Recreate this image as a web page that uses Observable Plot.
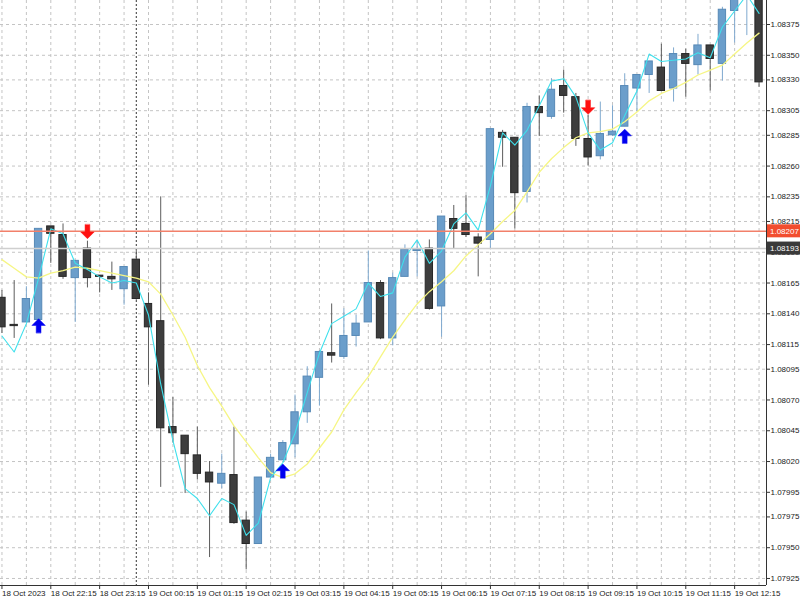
<!DOCTYPE html>
<html><head><meta charset="utf-8">
<script src="https://cdn.jsdelivr.net/npm/d3@7"></script>
<script src="https://cdn.jsdelivr.net/npm/@observablehq/plot@0.6"></script>
<style>
html,body{margin:0;padding:0;background:#fff;}
#chart{width:800px;height:600px;overflow:hidden;}
svg{display:block;}
</style></head><body><div id="chart"></div>
<script>
// 15-minute candles, index 0 = 18 Oct 21:15
const opens  = [1.08153,1.08131,1.08133,1.08135,1.08211,1.08204,1.08169,1.08193,1.08171,1.08170,1.08160,1.08184,1.08148,1.08134,1.08048,1.08041,1.08025,1.08011,1.08002,1.08009,1.07972,1.07953,1.08007,1.08021,1.08034,1.08060,1.08088,1.08108,1.08105,1.08122,1.08133,1.08165,1.08120,1.08170,1.08191,1.08193,1.08146,1.08217,1.08213,1.08202,1.08200,1.08287,1.08283,1.08239,1.08308,1.08300,1.08325,1.08316,1.08282,1.08268,1.08285,1.08292,1.08323,1.08334,1.08340,1.08323,1.08351,1.08342,1.08358,1.08343,1.08386,1.08400,1.08410];
const highs  = [1.08159,1.08167,1.08162,1.08209,1.08211,1.08213,1.08183,1.08199,1.08171,1.08182,1.08178,1.08192,1.08157,1.08235,1.08072,1.08041,1.08048,1.08020,1.08026,1.08048,1.07979,1.08007,1.08026,1.08037,1.08074,1.08097,1.08110,1.08148,1.08144,1.08139,1.08191,1.08167,1.08173,1.08196,1.08199,1.08200,1.08219,1.08228,1.08236,1.08205,1.08290,1.08289,1.08283,1.08311,1.08317,1.08331,1.08338,1.08319,1.08301,1.08312,1.08309,1.08335,1.08334,1.08345,1.08359,1.08356,1.08355,1.08367,1.08358,1.08389,1.08415,1.08430,1.08415];
const lows   = [1.08124,1.08120,1.08133,1.08135,1.08181,1.08168,1.08133,1.08161,1.08157,1.08159,1.08147,1.08151,1.08082,1.07999,1.08035,1.07994,1.08005,1.07942,1.07998,1.07969,1.07932,1.07953,1.08007,1.08021,1.08023,1.08051,1.08065,1.08100,1.08103,1.08113,1.08133,1.08119,1.08114,1.08170,1.08170,1.08143,1.08121,1.08193,1.08202,1.08170,1.08192,1.08259,1.08209,1.08230,1.08284,1.08298,1.08303,1.08276,1.08260,1.08265,1.08284,1.08292,1.08304,1.08319,1.08321,1.08312,1.08316,1.08334,1.08321,1.08329,1.08360,1.08366,1.08324];
const closes = [1.08129,1.08130,1.08152,1.08209,1.08205,1.08170,1.08183,1.08169,1.08170,1.08168,1.08178,1.08152,1.08129,1.08047,1.08043,1.08026,1.08010,1.08003,1.08010,1.07970,1.07953,1.08007,1.08023,1.08035,1.08060,1.08089,1.08109,1.08106,1.08122,1.08132,1.08165,1.08120,1.08169,1.08192,1.08192,1.08144,1.08219,1.08209,1.08204,1.08197,1.08290,1.08283,1.08238,1.08308,1.08303,1.08322,1.08317,1.08282,1.08267,1.08286,1.08288,1.08325,1.08334,1.08345,1.08321,1.08351,1.08343,1.08358,1.08347,1.08387,1.08405,1.08420,1.08328];
const fastMA = [1.08122,1.08109,1.08132,1.08169,1.08209,1.08205,1.08181,1.08176,1.08170,1.08165,1.08167,1.08165,1.08139,1.08083,1.08037,1.07998,1.07990,1.07976,1.07990,1.07985,1.07960,1.07970,1.08007,1.08019,1.08043,1.08076,1.08108,1.08132,1.08138,1.08144,1.08165,1.08154,1.08157,1.08186,1.08200,1.08181,1.08191,1.08213,1.08222,1.08208,1.08244,1.08287,1.08277,1.08289,1.08309,1.08329,1.08331,1.08316,1.08287,1.08273,1.08279,1.08301,1.08321,1.08351,1.08345,1.08346,1.08347,1.08352,1.08348,1.08373,1.08386,1.08399,1.08384];
const slowMA = [1.08184,1.08177,1.08170,1.08169,1.08173,1.08175,1.08178,1.08177,1.08175,1.08173,1.08171,1.08169,1.08166,1.08156,1.08139,1.08121,1.08098,1.08080,1.08065,1.08049,1.08036,1.08023,1.08011,1.08007,1.08010,1.08018,1.08031,1.08044,1.08062,1.08076,1.08089,1.08105,1.08121,1.08135,1.08148,1.08158,1.08166,1.08175,1.08187,1.08196,1.08205,1.08215,1.08224,1.08239,1.08255,1.08266,1.08275,1.08283,1.08287,1.08288,1.08290,1.08296,1.08304,1.08313,1.08319,1.08323,1.08328,1.08334,1.08338,1.08342,1.08351,1.08360,1.08368];
const timeLabels = ["18 Oct 2023","18 Oct 22:15","18 Oct 23:15","19 Oct 00:15","19 Oct 01:15","19 Oct 02:15","19 Oct 03:15","19 Oct 04:15","19 Oct 05:15","19 Oct 06:15","19 Oct 07:15","19 Oct 08:15","19 Oct 09:15","19 Oct 10:15","19 Oct 11:15","19 Oct 12:15"];
const timeLabelIdx = [0,4,8,12,16,20,24,28,32,36,40,44,48,52,56,60];
const priceTicks = [1.08375,1.08350,1.08330,1.08305,1.08285,1.08260,1.08235,1.08215,1.08190,1.08165,1.08140,1.08115,1.08095,1.08070,1.08045,1.08020,1.07995,1.07975,1.07950,1.07925];
const bidPrice = 1.08207;
const askPrice = 1.08193;
const upArrowIdx = [3,23,51];
const upArrowPrice = [1.08136,1.08018,1.08290];
const downArrowIdx = [7,48];
const downArrowPrice = [1.08201,1.08302];
const separatorIdx = [11];

const candles = opens.map((o,i)=>({i, o, h:highs[i], l:lows[i], c:closes[i], up: closes[i] >= o}));
const fast = fastMA.map((v,i)=>({i,v}));
const slow = slowMA.map((v,i)=>({i,v}));
const gridIdx = d3.range(0, opens.length, 2);
const ups = upArrowIdx.map((i,k)=>({i, p: upArrowPrice[k]}));
const downs = downArrowIdx.map((i,k)=>({i, p: downArrowPrice[k]}));

const arrowShape = {
  draw(ctx, l) {
    const w = l * 0.48, s = l * 0.17, h = l * 0.52;
    ctx.moveTo(-s, 0); ctx.lineTo(-s, -h); ctx.lineTo(-w, -h);
    ctx.lineTo(0, -l); ctx.lineTo(w, -h); ctx.lineTo(s, -h);
    ctx.lineTo(s, 0); ctx.closePath();
  }
};

const BLUE_FILL = "#6b9ecb", BLUE_EDGE = "#5789b6", BLUE_WICK = "#7fa9cf";
const DARK_FILL = "#3d3d3d", DARK_EDGE = "#262626", DARK_WICK = "#5c5c5c";
const FONT = "'Liberation Sans', Arial, sans-serif";

const plot = Plot.plot({
  width: 800, height: 600,
  marginLeft: 0, marginRight: 34, marginTop: 0, marginBottom: 15,
  style: {background: "#fff", fontFamily: FONT, fontSize: "8px", color: "#1a1a1a"},
  x: {type: "linear", domain: [-0.12, 62.61], axis: null, label: null},
  y: {domain: [1.079193, 1.083945], axis: null, label: null},
  marks: [
    Plot.gridY(priceTicks, {stroke: "#c4c4c4", strokeOpacity: 1, strokeDasharray: "3,3"}),
    Plot.gridX(gridIdx, {stroke: "#c4c4c4", strokeOpacity: 1, strokeDasharray: "3,3"}),
    Plot.ruleX(separatorIdx, {stroke: "#333", strokeDasharray: "2,2"}),
    Plot.ruleX(candles, {x: "i", y1: "l", y2: "h", stroke: d => d.up ? BLUE_WICK : DARK_WICK, strokeWidth: 1, clip: true}),
    Plot.rect(candles, {x1: d => d.i - 0.3, x2: d => d.i + 0.3, y1: "o", y2: "c",
      fill: d => d.up ? BLUE_FILL : DARK_FILL, stroke: d => d.up ? BLUE_EDGE : DARK_EDGE, strokeWidth: 1, clip: true}),
    Plot.line(slow, {x: "i", y: "v", stroke: "#f6f685", strokeWidth: 1.3, clip: true}),
    Plot.line(fast, {x: "i", y: "v", stroke: "#3ee0ec", strokeWidth: 1.1, clip: true}),
    Plot.ruleY([askPrice], {stroke: "#cfcfcf", strokeWidth: 1.5}),
    Plot.ruleY([bidPrice], {stroke: "#f2806a", strokeWidth: 1.5}),
    Plot.vector(ups, {x: "i", y: "p", length: 14, rotate: 0, anchor: "end", shape: arrowShape, fill: "#0000f0", stroke: "#0000f0", strokeWidth: 0.5}),
    Plot.vector(downs, {x: "i", y: "p", length: 14, rotate: 180, anchor: "end", shape: arrowShape, fill: "#ff1010", stroke: "#ff1010", strokeWidth: 0.5}),
    Plot.axisY({ticks: priceTicks, anchor: "right", label: null, tickSize: 3, tickPadding: 1, tickFormat: d => d.toFixed(5), textAnchor: "start", fontSize: 8, stroke: "#333"}),
    Plot.axisX({ticks: timeLabelIdx, anchor: "bottom", label: null, tickSize: 4, tickPadding: 1, tickFormat: i => timeLabels[timeLabelIdx.indexOf(i)], textAnchor: "start", fontSize: 8, stroke: "#333"})
  ]
});

document.getElementById("chart").appendChild(plot);

// axis lines and current price boxes, placed through the plot's own scales
const svg = d3.select(plot);
const xs = plot.scale("x"), ys = plot.scale("y");
const xR = xs.range[1], yB = ys.range[0];
svg.append("line").attr("x1", 0).attr("x2", xR).attr("y1", yB + 0.5).attr("y2", yB + 0.5).attr("stroke", "#333");
svg.append("line").attr("x1", xR + 0.5).attr("x2", xR + 0.5).attr("y1", 0).attr("y2", yB).attr("stroke", "#333");
[[bidPrice, "#f24d2e"], [askPrice, "#3a3a3a"]].forEach(([p, col]) => {
  const y = ys.apply(p);
  svg.append("rect").attr("x", xR + 1).attr("y", y - 6.5).attr("width", 800 - xR - 1).attr("height", 13).attr("fill", col);
  svg.append("text").attr("x", xR + 4).attr("y", y).attr("dy", "0.35em").attr("fill", "#fff")
    .attr("text-anchor", "start").attr("font-family", FONT).attr("font-size", 8).text(p.toFixed(5));
});
</script>
</body></html>
